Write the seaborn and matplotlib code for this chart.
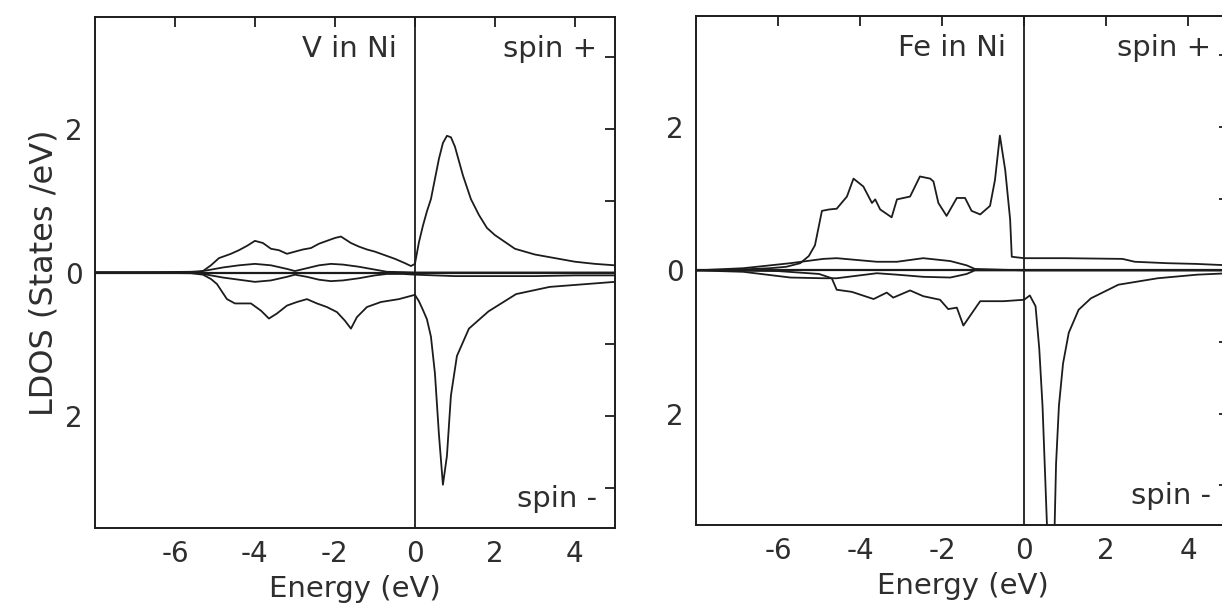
import numpy as np
import matplotlib
matplotlib.use("Agg")
import matplotlib.pyplot as plt
import seaborn as sns

# V in Ni, spin + (d-like main curve)
V_UP_E = [-8.0, -6.5, -5.6, -5.3, -5.1, -4.9, -4.6, -4.4, -4.2, -4.0, -3.8, -3.6, -3.4, -3.2,
          -3.0, -2.8, -2.6, -2.4, -2.2, -2.0, -1.85, -1.6, -1.4, -1.2, -1.0, -0.8, -0.5, -0.25,
          -0.1, 0.0, 0.1, 0.2, 0.3, 0.4, 0.5, 0.6, 0.7, 0.8, 0.9, 1.0, 1.1, 1.2, 1.4, 1.6, 1.8,
          2.0, 2.5, 3.0, 3.4, 4.0, 4.5, 5.0]
V_UP = [0.0, 0.005, 0.01, 0.02, 0.1, 0.2, 0.26, 0.31, 0.37, 0.44, 0.41, 0.33, 0.31, 0.26,
        0.29, 0.32, 0.34, 0.4, 0.44, 0.48, 0.5, 0.41, 0.36, 0.32, 0.29, 0.25, 0.19, 0.13,
        0.09, 0.12, 0.42, 0.65, 0.85, 1.02, 1.3, 1.58, 1.8, 1.9, 1.88, 1.75, 1.55, 1.35, 1.02,
        0.8, 0.62, 0.52, 0.33, 0.25, 0.21, 0.15, 0.12, 0.1]

# V in Ni, spin - (plotted downward)
V_DN_E = [-8.0, -6.5, -5.6, -5.3, -5.1, -4.95, -4.7, -4.5, -4.1, -3.85, -3.65, -3.45, -3.2,
          -2.95, -2.7, -2.45, -2.2, -1.95, -1.75, -1.6, -1.45, -1.2, -0.85, -0.4, 0.0, 0.1,
          0.2, 0.3, 0.4, 0.5, 0.6, 0.7, 0.8, 0.9, 1.05, 1.35, 1.84, 2.53, 3.37, 5.0]
V_DN = [0.0, -0.005, -0.01, -0.03, -0.09, -0.16, -0.37, -0.43, -0.43, -0.53, -0.64, -0.57,
        -0.46, -0.41, -0.37, -0.43, -0.48, -0.55, -0.67, -0.78, -0.62, -0.48, -0.41, -0.37,
        -0.31, -0.4, -0.52, -0.65, -0.89, -1.4, -2.25, -2.95, -2.55, -1.71, -1.16, -0.78,
        -0.54, -0.3, -0.2, -0.13]

# V in Ni, small sp-like contributions
V_SP_E = [-8.0, -5.5, -5.2, -4.8, -4.4, -4.0, -3.6, -3.2, -3.0, -2.7, -2.4, -2.1, -1.8, -1.4,
          -1.0, -0.7, -0.3, 0.0, 1.0, 2.0, 3.0, 4.0, 5.0]
V_SP_UP = [0.0, 0.0, 0.03, 0.07, 0.1, 0.12, 0.1, 0.05, 0.02, 0.06, 0.1, 0.12, 0.11, 0.08,
           0.04, 0.01, 0.005, 0.0, 0.0, 0.0, 0.0, 0.0, 0.0]
V_SP_DN = [0.0, 0.0, -0.03, -0.07, -0.1, -0.13, -0.11, -0.06, -0.03, -0.06, -0.1, -0.12,
           -0.11, -0.08, -0.04, -0.02, -0.02, -0.03, -0.05, -0.05, -0.05, -0.04, -0.04]

# Fe in Ni, spin +
FE_UP_E = [-8.0, -7.0, -6.2, -5.8, -5.46, -5.25, -5.1, -4.93, -4.75, -4.57, -4.32, -4.16, -3.92,
           -3.71, -3.63, -3.51, -3.23, -3.1, -2.78, -2.54, -2.29, -2.21, -2.09, -1.89, -1.64,
           -1.44, -1.28, -1.07, -0.83, -0.71, -0.59, -0.46, -0.34, -0.3, 0.0, 1.0, 2.4, 2.7,
           3.5, 4.2, 5.0]
FE_UP = [0.0, 0.01, 0.03, 0.05, 0.1, 0.2, 0.35, 0.83, 0.85, 0.86, 1.03, 1.28, 1.17, 0.94, 0.99,
         0.85, 0.74, 0.99, 1.03, 1.31, 1.28, 1.24, 0.94, 0.76, 1.01, 1.01, 0.83, 0.78, 0.9,
         1.26, 1.88, 1.4, 0.71, 0.19, 0.17, 0.17, 0.16, 0.12, 0.1, 0.09, 0.07]

# Fe in Ni, spin -
FE_DN_E = [-8.0, -6.0, -5.0, -4.69, -4.57, -4.2, -3.67, -3.35, -3.19, -2.78, -2.46, -2.05, -1.85,
           -1.64, -1.48, -1.24, -1.07, -0.5, 0.0, 0.14, 0.28, 0.37, 0.45, 0.52, 0.6, 0.66, 0.72,
           0.78, 0.85, 0.95, 1.09, 1.33, 1.63, 2.3, 3.26, 4.22, 5.0]
FE_DN = [0.0, -0.01, -0.05, -0.11, -0.27, -0.3, -0.4, -0.31, -0.38, -0.28, -0.36, -0.41, -0.54,
         -0.52, -0.77, -0.57, -0.43, -0.43, -0.41, -0.35, -0.5, -1.09, -1.89, -2.96, -4.2,
         -4.6, -4.2, -2.7, -1.89, -1.3, -0.87, -0.55, -0.39, -0.2, -0.11, -0.06, -0.04]

# Fe in Ni, small sp-like contributions
FE_SP_E = [-8.0, -6.85, -5.7, -4.9, -4.57, -3.59, -3.1, -2.46, -1.8, -1.4, -1.2, 0.0, 5.0]
FE_SP_UP = [0.0, 0.03, 0.1, 0.16, 0.17, 0.12, 0.12, 0.17, 0.13, 0.07, 0.02, 0.0, 0.0]
FE_SP_DN = [0.0, -0.02, -0.1, -0.11, -0.11, -0.04, -0.06, -0.09, -0.1, -0.05, 0.0, 0.0, 0.0]

PANELS = [
    ("V in Ni", [(V_UP_E, V_UP), (V_DN_E, V_DN), (V_SP_E, V_SP_UP), (V_SP_E, V_SP_DN)]),
    ("Fe in Ni", [(FE_UP_E, FE_UP), (FE_DN_E, FE_DN), (FE_SP_E, FE_SP_UP), (FE_SP_E, FE_SP_DN)]),
]

X_TICKS = [-6, -4, -2, 0, 2, 4]
X_LABELS = ["-6", "-4", "-2", "0", "2", "4"]
# spin - is drawn downward, but labelled with its magnitude
Y_TICKS = [-3, -2, -1, 0, 1, 2, 3]
Y_LABELS = ["", "2", "", "0", "", "2", ""]

INK = "#1c1c1c"
TXT = "#2e2e2e"
FS = 21

sns.set_style("white")
plt.rcParams["font.family"] = ["DejaVu Sans"]
plt.rcParams["axes.unicode_minus"] = False

fig = plt.figure(figsize=(12.22, 6.11), dpi=100)
# right panel runs off the right edge, as in the scan
axes = [fig.add_axes([0.0777, 0.136, 0.4255, 0.836]),
        fig.add_axes([0.5696, 0.141, 0.4362, 0.833])]

for ax, (name, curves) in zip(axes, PANELS):
    for e, v in curves:
        sns.lineplot(x=e, y=v, ax=ax, color=INK, lw=1.3, sort=False, estimator=None)
    ax.axhline(0, color=INK, lw=1.6)
    ax.axvline(0, color=INK, lw=1.3)

    ax.set_xlim(-8, 5)
    ax.set_ylim(-3.55, 3.55)
    ax.set_xticks(X_TICKS)
    ax.set_xticklabels(X_LABELS)
    ax.set_yticks(Y_TICKS)
    ax.set_yticklabels(Y_LABELS)
    ax.tick_params(direction="in", length=7, width=1.3, color=INK,
                   top=True, right=True, labelsize=20, labelcolor=TXT, pad=9)
    for s in ax.spines.values():
        s.set_color(INK)
        s.set_linewidth(1.4)

    ax.set_xlabel("Energy (eV)", fontsize=FS, color=TXT, labelpad=5)
    ax.set_ylabel("")
    ax.text(-0.45, 3.1, name, ha="right", va="center", fontsize=FS, color=TXT)
    ax.text(4.55, 3.1, "spin +", ha="right", va="center", fontsize=FS, color=TXT)
    ax.text(4.55, -3.15, "spin -", ha="right", va="center", fontsize=FS, color=TXT)

axes[0].set_ylabel("LDOS (States /eV)", fontsize=23, color=TXT, labelpad=4)

fig.savefig("out.png", dpi=100, facecolor="white")
